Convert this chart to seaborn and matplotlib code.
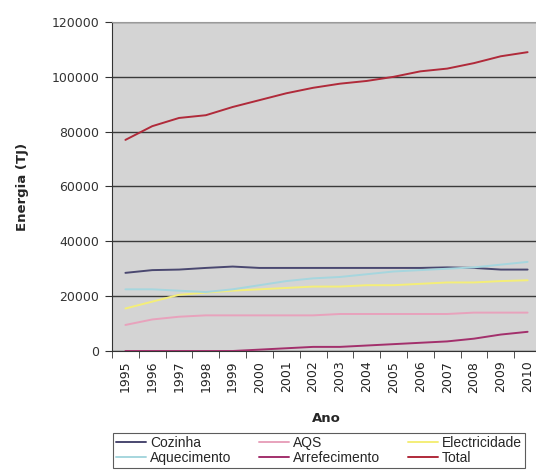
import numpy as np
import pandas as pd
import matplotlib
matplotlib.use("Agg")
import matplotlib.pyplot as plt
import seaborn as sns
from matplotlib.lines import Line2D
from matplotlib.ticker import FixedLocator

# anos
anos = [str(a) for a in range(1995, 2011)]

# consumos por uso final (TJ)
cozinha = [28500, 29500, 29700, 30300, 30800, 30300, 30300, 30300,
           30300, 30300, 30300, 30300, 30500, 30300, 29700, 29700]
aqs = [9500, 11500, 12500, 13000, 13000, 13000, 13000, 13000,
       13500, 13500, 13500, 13500, 13500, 14000, 14000, 14000]
electricidade = [15500, 18000, 20500, 21300, 22000, 22500, 23000, 23500,
                 23500, 24000, 24000, 24500, 25000, 25000, 25500, 25800]
aquecimento = [22500, 22500, 22000, 21500, 22500, 24000, 25500, 26500,
               27000, 28000, 29000, 29500, 30000, 30500, 31500, 32500]
arrefecimento = [0, 0, 0, 0, 0, 500, 1000, 1500,
                 1500, 2000, 2500, 3000, 3500, 4500, 6000, 7000]
total = [77000, 82000, 85000, 86000, 89000, 91500, 94000, 96000,
         97500, 98500, 100000, 102000, 103000, 105000, 107500, 109000]

series = ["Cozinha", "AQS", "Electricidade", "Aquecimento", "Arrefecimento", "Total"]
cores = ["#4a4870", "#e8a2bc", "#f4ee78", "#a6d6de", "#a3306c", "#b02a3a"]

valores = [cozinha, aqs, electricidade, aquecimento, arrefecimento, total]
df = pd.concat([
    pd.DataFrame({"x": np.arange(len(anos)), "Ano": anos, "valor": v, "serie": s})
    for s, v in zip(series, valores)
])

sns.set_style("white")
plt.rcParams['font.family'] = ['DejaVu Sans']

fig = plt.figure(figsize=(5.36, 4.71), dpi=100)
ax = fig.add_axes([112 / 536, 1 - 351 / 471, 429 / 536, 329 / 471])
ax.set_facecolor("#d4d4d4")

sns.lineplot(data=df, x="x", y="valor", hue="serie", hue_order=series,
             palette=cores, linewidth=1.4, legend=False, ax=ax, zorder=3)

ax.set_xlim(-0.5, len(anos) - 0.5)
ax.set_ylim(0, 120000)
ax.set_yticks(range(0, 120001, 20000))
ax.set_yticklabels([str(v) for v in range(0, 120001, 20000)], fontsize=9, color="#333333")
ax.yaxis.grid(True, color="#3a3a3a", linewidth=1.0, zorder=1)
ax.set_axisbelow(True)

ax.set_xticks(np.arange(len(anos)))
ax.set_xticklabels(anos, rotation=90, fontsize=9, color="#222222")
ax.xaxis.set_minor_locator(FixedLocator(np.arange(len(anos) + 1) - 0.5))
ax.tick_params(axis="x", which="major", length=0, pad=7)
ax.tick_params(axis="x", which="minor", length=5, color="#333333", direction="out", bottom=True)
ax.tick_params(axis="y", length=5, color="#333333", direction="out", left=True, pad=4)

ax.spines["top"].set_color("#9a9a9a")
ax.spines["right"].set_visible(False)
ax.spines["left"].set_color("#333333")
ax.spines["bottom"].set_color("#333333")

ax.set_xlabel("Ano", fontsize=9.5, fontweight="bold", labelpad=14)
ax.set_ylabel("Energia (TJ)", fontsize=9.5, fontweight="bold", labelpad=16)

# legenda (preenchida por colunas)
ordem = [0, 3, 1, 4, 2, 5]
handles = [Line2D([0], [0], color=cores[i], lw=1.4) for i in ordem]
labels = [series[i] for i in ordem]
leg = fig.legend(handles, labels, ncol=3, loc="upper left",
                 bbox_to_anchor=(113 / 536, 1 - 433 / 471), frameon=True, fancybox=False,
                 prop={"family": "Liberation Sans", "size": 10},
                 handlelength=2.15, handletextpad=0.3,
                 columnspacing=2.0, borderpad=0.2, labelspacing=0.1,
                 borderaxespad=0)
leg.get_frame().set_edgecolor("#333333")
leg.get_frame().set_linewidth(0.8)

fig.savefig("out.png", dpi=100)
